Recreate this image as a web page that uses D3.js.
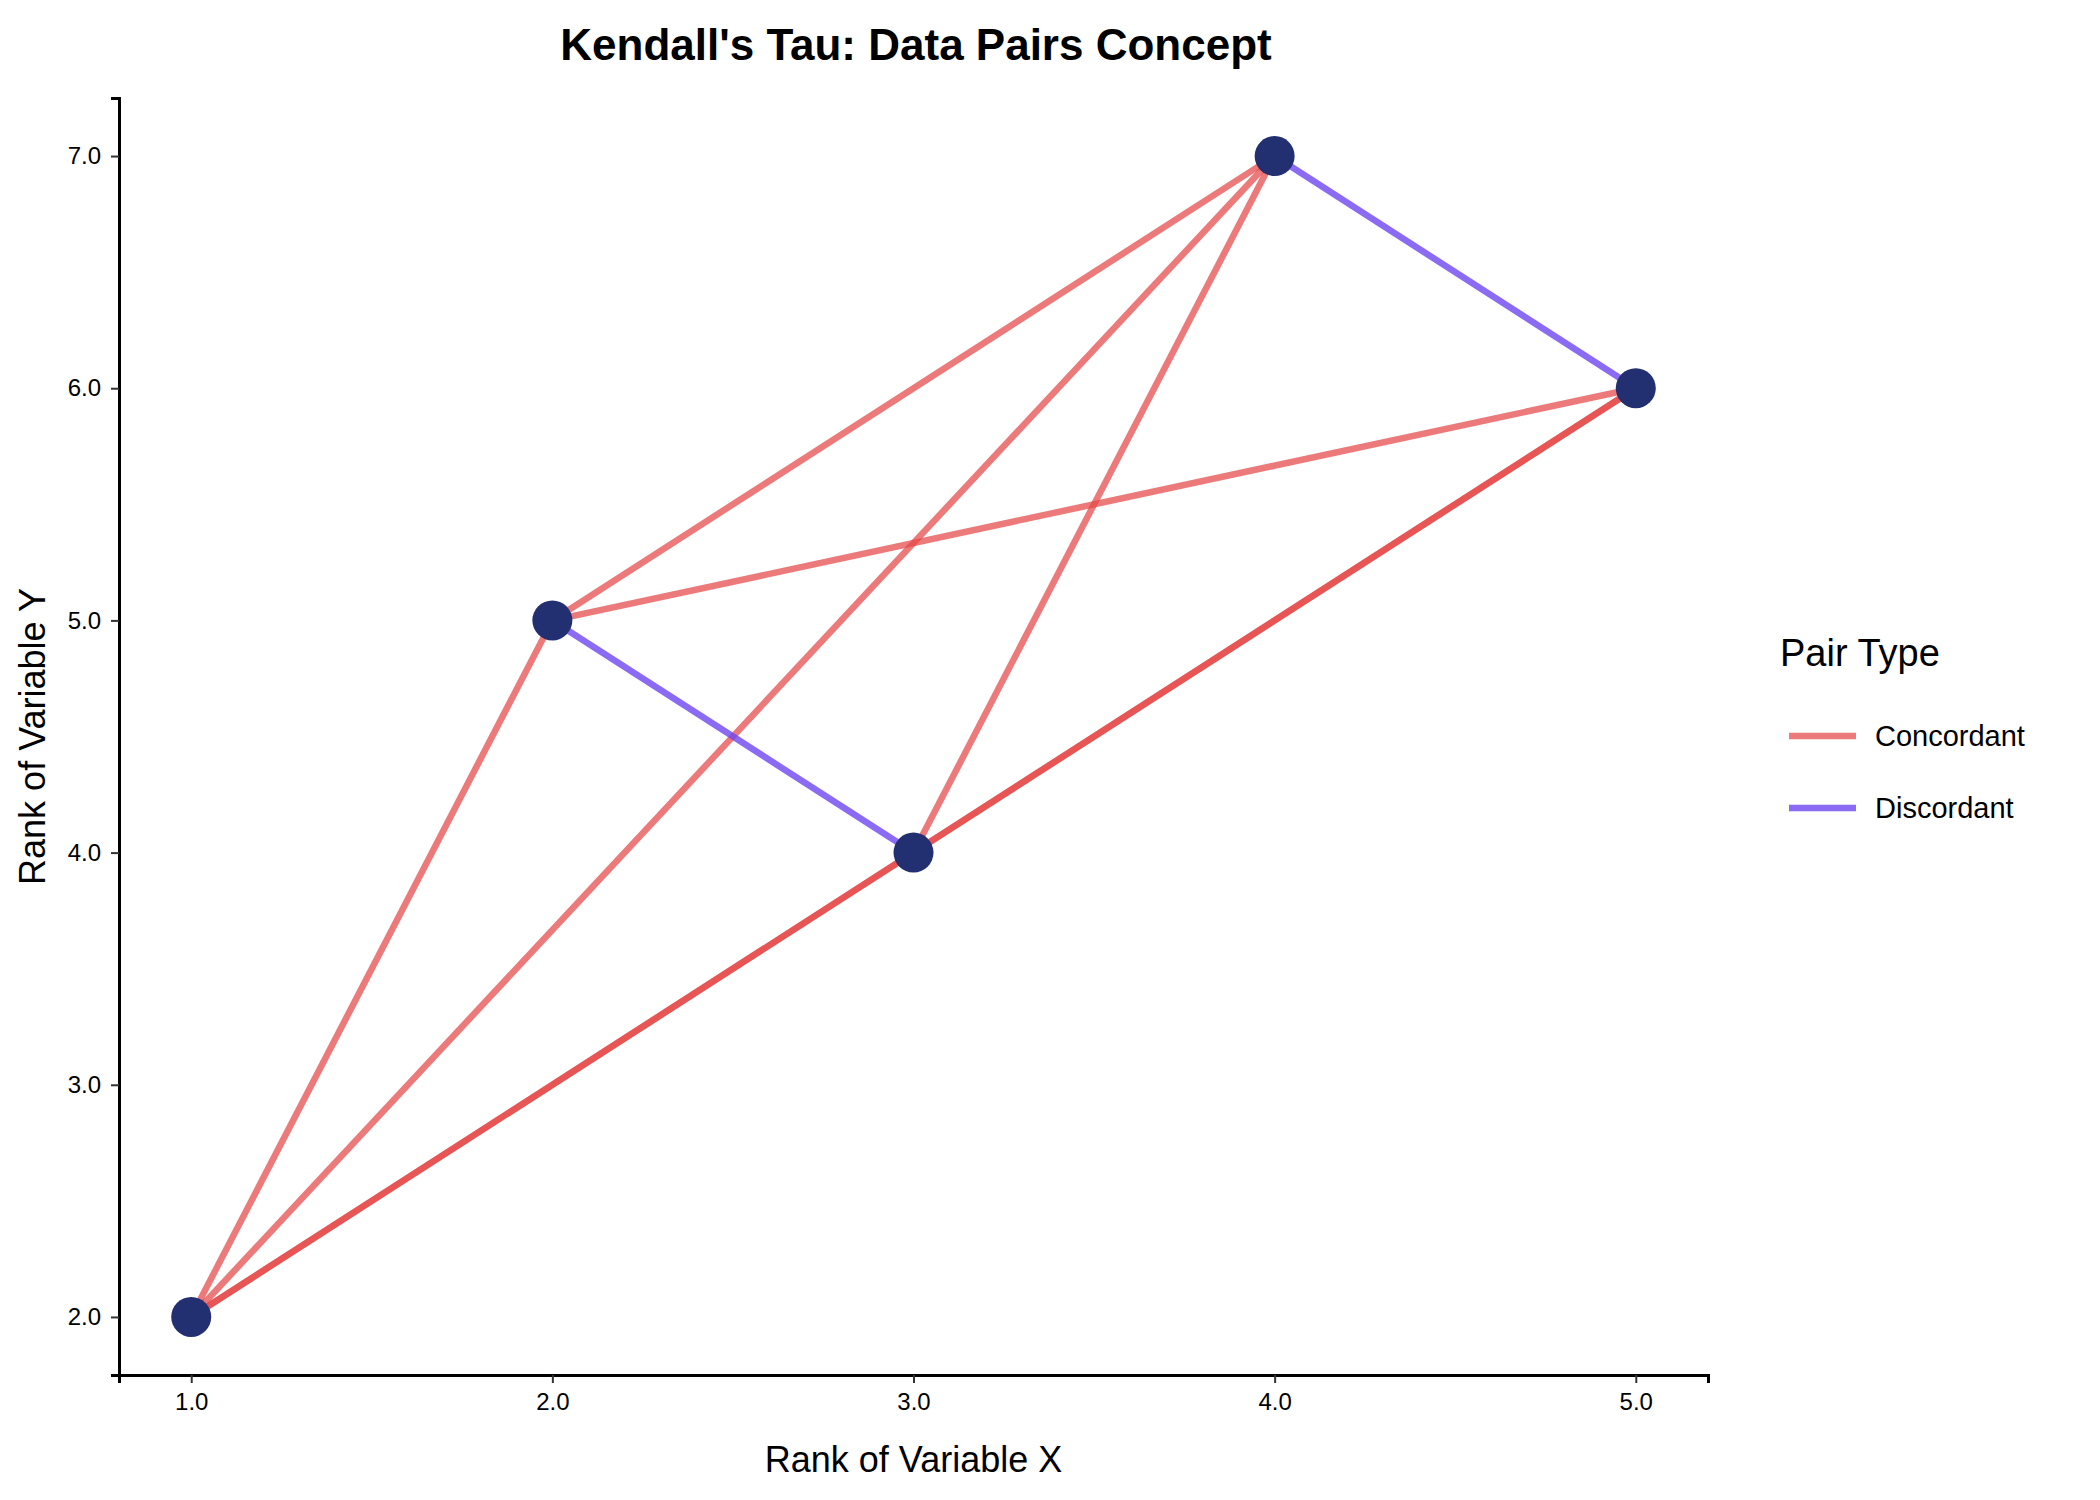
<!DOCTYPE html>
<html><head><meta charset="utf-8">
<script src="https://cdn.jsdelivr.net/npm/d3@7"></script>
<style>body{margin:0;background:#fff}text{font-family:"Liberation Sans",Arial,sans-serif}</style>
</head><body><svg width="2100" height="1500"></svg>
<script>
// data
const rankX = [1, 2, 3, 4, 5];
const rankY = [2, 5, 4, 7, 6];
const pairTypes = ["Concordant", "Discordant"];
const pairColors = ["rgba(228,70,70,0.72)", "rgba(110,70,240,0.8)"];
const xTicks = [1, 2, 3, 4, 5];
const yTicks = [2, 3, 4, 5, 6, 7];

const pts = rankX.map((x, i) => ({x: x, y: rankY[i]}));
let pairs = [];
for (let i = 0; i < pts.length; i++)
    for (let j = i + 1; j < pts.length; j++) {
        const s = (pts[j].x - pts[i].x) * (pts[j].y - pts[i].y);
        pairs.push({a: pts[i], b: pts[j], type: s > 0 ? "Concordant" : "Discordant"});
    }

const svg = d3.select("svg");
const m = {left: 119, right: 1708, top: 98, bottom: 1375};
const x = d3.scaleLinear().domain([0.8, 5.2]).range([m.left, m.right]);
const y = d3.scaleLinear().domain([1.75, 7.25]).range([m.bottom, m.top]);
const color = d3.scaleOrdinal().domain(pairTypes).range(pairColors);

svg.append("g").attr("transform", `translate(0,${m.bottom})`)
    .call(d3.axisBottom(x).tickValues(xTicks).tickSize(8).tickPadding(10))
    .call(g => g.select(".domain").attr("stroke", "#000").attr("stroke-width", 3))
    .call(g => g.selectAll(".tick line").attr("stroke", "#333").attr("stroke-width", 2))
    .call(g => g.selectAll("text").attr("font-size", 24).attr("fill", "#000"));
svg.append("g").attr("transform", `translate(${m.left},0)`)
    .call(d3.axisLeft(y).tickValues(yTicks).tickSize(8).tickPadding(10))
    .call(g => g.select(".domain").attr("stroke", "#000").attr("stroke-width", 3))
    .call(g => g.selectAll(".tick line").attr("stroke", "#333").attr("stroke-width", 2))
    .call(g => g.selectAll("text").attr("font-size", 24).attr("fill", "#000"));

svg.selectAll("line.pair").data(pairs).enter().append("line").attr("class", "pair")
    .attr("x1", d => x(d.a.x)).attr("y1", d => y(d.a.y))
    .attr("x2", d => x(d.b.x)).attr("y2", d => y(d.b.y))
    .attr("stroke", d => color(d.type)).attr("stroke-width", 6.5);

svg.selectAll("circle").data(pts).enter().append("circle")
    .attr("cx", d => x(d.x)).attr("cy", d => y(d.y)).attr("r", 20)
    .attr("fill", "#222f70");

svg.append("text").attr("x", 916).attr("y", 60).attr("text-anchor", "middle")
    .attr("font-size", 44).attr("font-weight", "bold").text("Kendall's Tau: Data Pairs Concept");
svg.append("text").attr("x", (m.left + m.right) / 2).attr("y", 1472).attr("text-anchor", "middle")
    .attr("font-size", 36).text("Rank of Variable X");
svg.append("text").attr("transform", `translate(45,${(m.top + m.bottom) / 2}) rotate(-90)`)
    .attr("text-anchor", "middle").attr("font-size", 36).text("Rank of Variable Y");

const lg = svg.append("g").attr("transform", "translate(1780,0)");
lg.append("text").attr("x", 0).attr("y", 666).attr("font-size", 38).text("Pair Type");
pairTypes.forEach((t, i) => {
    const yy = 736 + i * 72;
    lg.append("line").attr("x1", 9).attr("x2", 76).attr("y1", yy).attr("y2", yy)
        .attr("stroke", color(t)).attr("stroke-width", 6.5);
    lg.append("text").attr("x", 95).attr("y", yy + 10).attr("font-size", 29).text(t);
});
</script></body></html>
